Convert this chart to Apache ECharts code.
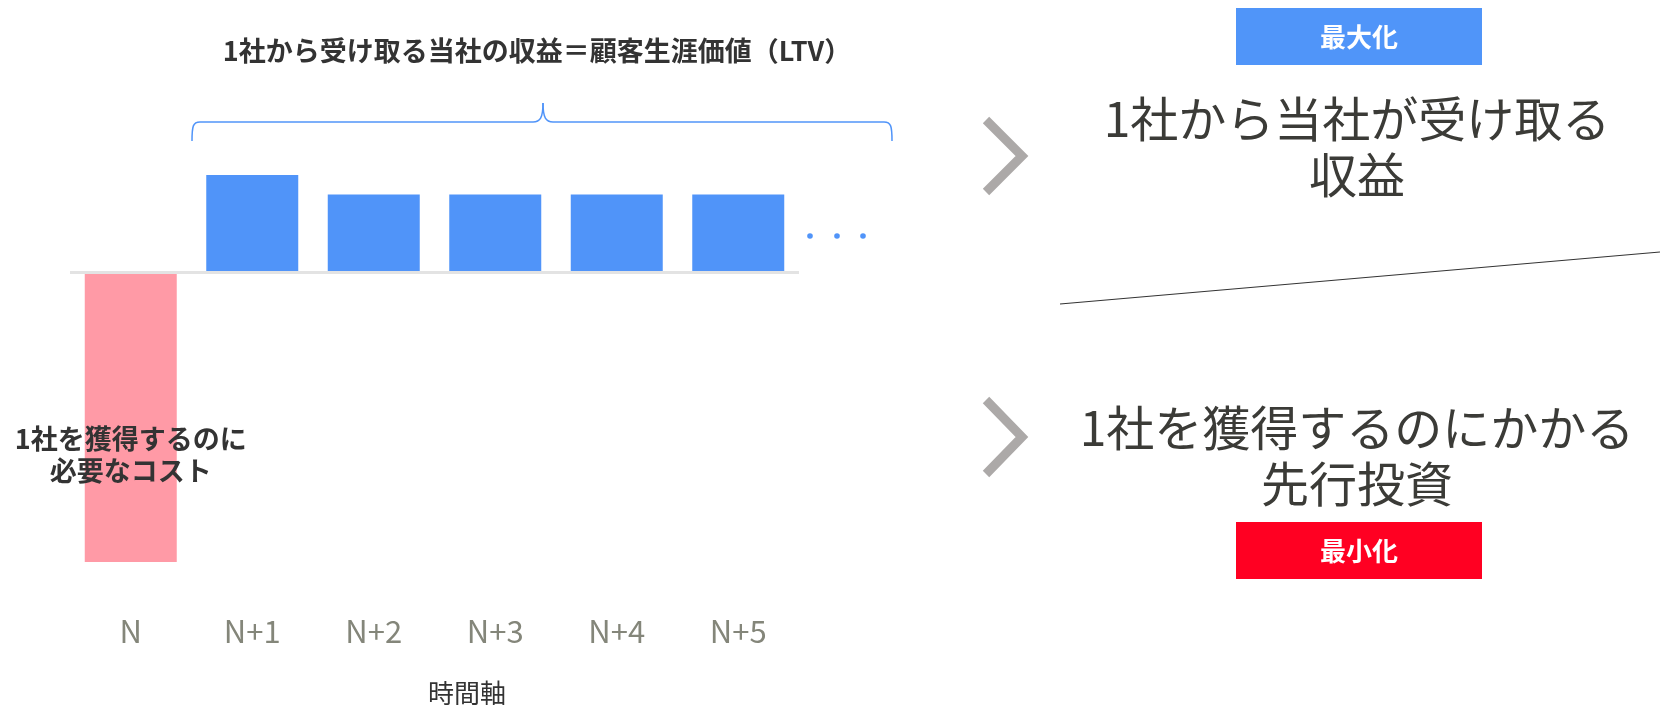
<!DOCTYPE html>
<html>
<head>
<meta charset="utf-8">
<script src="https://cdn.jsdelivr.net/npm/echarts@6/dist/echarts.min.js"></script>
<style>
html,body{margin:0;padding:0;background:#fff;}
#chart{width:1660px;height:705px;}
</style>
</head>
<body>
<div id="chart"></div>
<script>
const categories = ['N', 'N+1', 'N+2', 'N+3', 'N+4', 'N+5'];
const values = [-297, 100, 80, 80, 80, 80];
const costLabel = '1社を獲得するのに\n必要なコスト';
const ltvTitle = '1社から受け取る当社の収益＝顧客生涯価値（LTV）';
const axisName = '時間軸';
const revenueText = '1社から当社が受け取る\n収益';
const investText = '1社を獲得するのにかかる\n先行投資';
const maxLabel = '最大化';
const minLabel = '最小化';

const FONT = '"Noto Sans CJK JP", "Noto Sans", sans-serif';
const BLUE = '#5094F9';
const PINK = '#FF9AA6';

const chart = echarts.init(document.getElementById('chart'));

const seriesData = values.map((v) => {
  if (v < 0) {
    return {
      value: v,
      itemStyle: { color: PINK },
      label: {
        show: true,
        position: 'inside',
        offset: [0, 37],
        formatter: costLabel,
        fontFamily: FONT,
        fontSize: 27,
        fontWeight: 'bold',
        lineHeight: 32,
        color: '#333333'
      }
    };
  }
  return { value: v, itemStyle: { color: BLUE } };
});

const braceStyle = { stroke: BLUE, lineWidth: 1.5, fill: null };

chart.setOption({
  animation: false,
  backgroundColor: '#ffffff',
  grid: { left: 70, width: 729, top: 175, height: 390 },
  xAxis: {
    type: 'category',
    data: categories,
    axisLine: { show: false, onZero: false },
    axisTick: { show: false },
    splitLine: { show: false },
    axisLabel: {
      margin: 51,
      fontFamily: FONT,
      fontSize: 31,
      color: '#84867a'
    }
  },
  yAxis: {
    type: 'value',
    min: -300,
    max: 100,
    show: false,
    splitLine: { show: false }
  },
  series: [{
    type: 'bar',
    data: seriesData,
    barWidth: 92,
    markLine: {
      silent: true,
      symbol: 'none',
      label: { show: false },
      lineStyle: { color: '#e3e3e3', width: 3, type: 'solid' },
      data: [{ yAxis: 0 }]
    }
  }],
  graphic: [
    {
      type: 'text', x: 537, y: 51,
      style: { text: ltvTitle, fontFamily: FONT, fontSize: 27, fontWeight: 'bold', fill: '#333333', align: 'center', verticalAlign: 'middle' }
    },
    { type: 'bezierCurve', shape: { x1: 192, y1: 141, cpx1: 192, cpy1: 126, cpx2: 193, cpy2: 122, x2: 200, y2: 122 }, style: braceStyle },
    { type: 'line', shape: { x1: 200, y1: 122, x2: 533, y2: 122 }, style: braceStyle },
    { type: 'bezierCurve', shape: { x1: 533, y1: 122, cpx1: 540, cpy1: 122, cpx2: 543, cpy2: 118, x2: 543, y2: 103 }, style: braceStyle },
    { type: 'bezierCurve', shape: { x1: 543, y1: 103, cpx1: 543, cpy1: 118, cpx2: 546, cpy2: 122, x2: 553, y2: 122 }, style: braceStyle },
    { type: 'line', shape: { x1: 553, y1: 122, x2: 884, y2: 122 }, style: braceStyle },
    { type: 'bezierCurve', shape: { x1: 884, y1: 122, cpx1: 891, cpy1: 122, cpx2: 892, cpy2: 126, x2: 892, y2: 141 }, style: braceStyle },
    { type: 'circle', shape: { cx: 810, cy: 236, r: 2.8 }, style: { fill: BLUE } },
    { type: 'circle', shape: { cx: 837, cy: 236, r: 2.8 }, style: { fill: BLUE } },
    { type: 'circle', shape: { cx: 863, cy: 236, r: 2.8 }, style: { fill: BLUE } },
    {
      type: 'text', x: 467, y: 693,
      style: { text: axisName, fontFamily: FONT, fontSize: 26, fill: '#333333', align: 'center', verticalAlign: 'middle' }
    },
    {
      type: 'polyline',
      shape: { points: [[986, 120], [1022, 156], [986, 192]] },
      style: { stroke: '#ACA9A8', lineWidth: 9, fill: null, lineJoin: 'miter', lineCap: 'butt' }
    },
    {
      type: 'polyline',
      shape: { points: [[986, 400], [1022, 437], [986, 474]] },
      style: { stroke: '#ACA9A8', lineWidth: 9, fill: null, lineJoin: 'miter', lineCap: 'butt' }
    },
    { type: 'rect', shape: { x: 1236, y: 8, width: 246, height: 57 }, style: { fill: '#5095F9' } },
    {
      type: 'text', x: 1359, y: 37,
      style: { text: maxLabel, fontFamily: FONT, fontSize: 26, fontWeight: 'bold', fill: '#ffffff', align: 'center', verticalAlign: 'middle' }
    },
    {
      type: 'text', x: 1357, y: 147,
      style: { text: revenueText, fontFamily: FONT, fontSize: 48, lineHeight: 56, fill: '#3b3b37', align: 'center', verticalAlign: 'middle' }
    },
    {
      type: 'line',
      shape: { x1: 1060, y1: 304, x2: 1660, y2: 252 },
      style: { stroke: '#333333', lineWidth: 1.2 }
    },
    {
      type: 'text', x: 1357, y: 456,
      style: { text: investText, fontFamily: FONT, fontSize: 48, lineHeight: 56, fill: '#3b3b37', align: 'center', verticalAlign: 'middle' }
    },
    { type: 'rect', shape: { x: 1236, y: 522, width: 246, height: 57 }, style: { fill: '#FF0022' } },
    {
      type: 'text', x: 1359, y: 551,
      style: { text: minLabel, fontFamily: FONT, fontSize: 26, fontWeight: 'bold', fill: '#ffffff', align: 'center', verticalAlign: 'middle' }
    }
  ]
});
</script>
</body>
</html>
